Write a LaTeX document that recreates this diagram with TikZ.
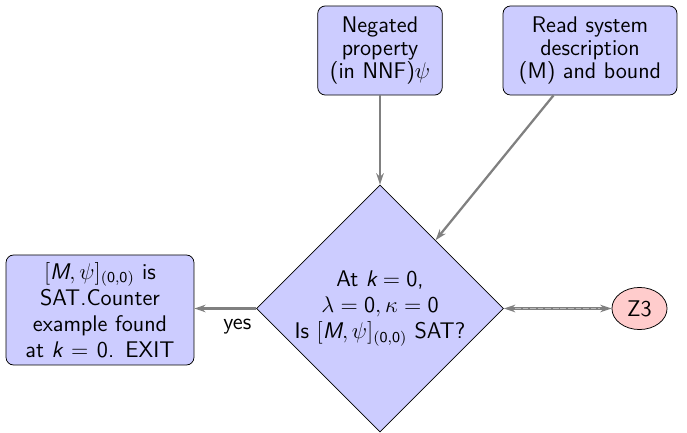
\documentclass[tikz,border=0pt]{standalone}
\usetikzlibrary{shapes.geometric,arrows.meta}
\renewcommand{\familydefault}{\sfdefault}
% sans-serif italic letters inside formulas
\newcommand{\sv}[1]{\textsf{\itshape #1}}
\tikzset{
  txt/.style={font=\sffamily\fontsize{12}{12}\selectfont},
  procbox/.style={draw=black, fill=blue!20, rounded corners=4pt, align=center,
    inner sep=1pt, txt},
  decision/.style={draw=black, fill=blue!20, shape=diamond, aspect=1,
    minimum width=130.9pt, minimum height=130.9pt, inner sep=-6pt, align=center,
    font=\sffamily\fontsize{12}{13.8}\selectfont},
  solver/.style={draw=black, fill=red!20, shape=ellipse, minimum width=29.2pt,
    minimum height=22.3pt, inner sep=0pt, txt},
  flow/.style={draw=gray, very thick, -{Stealth[length=6pt,width=4pt]}},
}
\begin{document}
\begin{tikzpicture}[x=0.53pt, y=-0.53pt]
  \useasboundingbox (0,0) rectangle (687,433);

  \node[procbox, text width=64pt, minimum width=65.7pt, minimum height=47.2pt]
    (neg) at (380,50.5) {Negated\\property\\(in NNF)$\psi$};
  \node[procbox, text width=90pt, minimum width=92.2pt, minimum height=47.2pt]
    (read) at (590,50.5) {Read system\\description\\(M) and bound};
  \node[decision] (chk) at (380,308.5)
    {At $\sv{k}=\mathsf{0}$,\\$\lambda=\mathsf{0},\kappa=\mathsf{0}$\\Is $[\sv{M},\psi]_{\mathsf{(0,0)}}$ SAT?};
  \node[procbox, text width=97pt, minimum width=99.6pt, minimum height=58.3pt,
    font=\sffamily\fontsize{12}{13.8}\selectfont]
    (found) at (100,310)
    {$[\sv{M},\psi]_{\mathsf{(0,0)}}$ is\\SAT.Counter\\example found\\at $\sv{k}=\mathsf{0}$. EXIT};
  \node[solver] (z3) at (639.5,308.5) {Z3};

  \draw[flow] (neg) -- (chk);
  \draw[flow] (read) -- (chk);
  \draw[flow] (chk.west) -- (chk.west -| found.east)
    node[pos=0, anchor=north east, txt, inner sep=2pt, yshift=-3pt] {yes};
  \draw[draw=gray, very thick, {Stealth[length=6pt,width=4pt]}-{Stealth[length=6pt,width=4pt]}]
    (chk.east) -- (chk.east -| z3.west);
  \draw[draw=gray!55, thin, dash pattern=on 3pt off 1pt, shorten <=6pt, shorten >=6pt]
    (chk.east) -- (chk.east -| z3.west);
\end{tikzpicture}
\end{document}
